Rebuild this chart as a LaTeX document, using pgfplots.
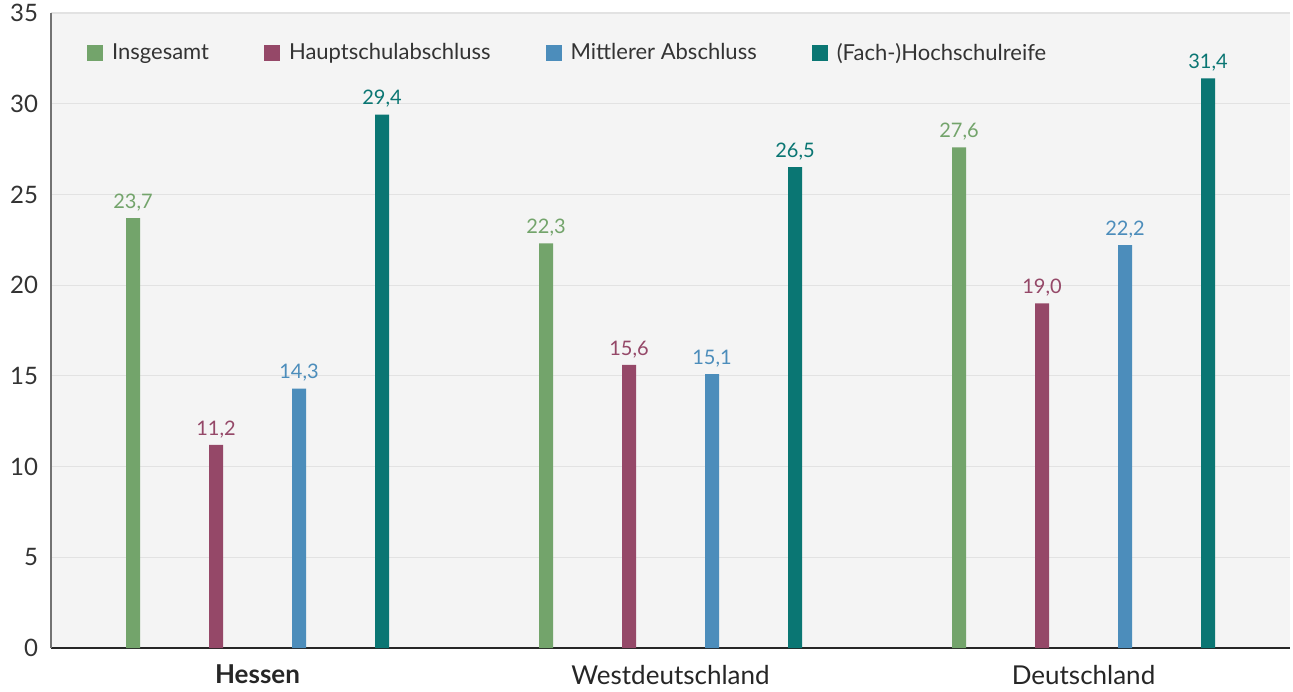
\documentclass[border=0pt]{standalone}
\usepackage{pgfplots}
\pgfplotsset{compat=1.18}
\usepackage{fontspec}
\setmainfont{Lato}
\definecolor{cG}{HTML}{73A46B}
\definecolor{cM}{HTML}{954868}
\definecolor{cB}{HTML}{4C8DBB}
\definecolor{cT}{HTML}{0A7673}
\definecolor{cBg}{HTML}{F4F4F4}
\definecolor{cGrid}{HTML}{E2E2E2}
\definecolor{cTxt}{HTML}{333333}
\begin{document}
\begin{tikzpicture}
\path[use as bounding box] (0,0) rectangle (646.5pt,345.5pt);
\begin{axis}[
  at={(25.5pt,21.5pt)}, anchor=south west,
  scale only axis, width=619.5pt, height=317.5pt,
  xmin=-0.5, xmax=2.5, ymin=0, ymax=35,
  ytick={0,5,...,35}, xtick={0,1,2},
  xticklabels={\textbf{Hessen},Westdeutschland,Deutschland},
  axis x line*=bottom, axis y line*=left,
  x axis line style={draw=black!85, line width=0.8pt},
  y axis line style={draw=black!55, line width=0.8pt},
  axis background/.style={fill=cBg},
  ymajorgrids, grid style={draw=cGrid, line width=0.6pt},
  major tick length=0pt,
  /pgf/number format/assume math mode=true,
  yticklabel style={font=\fontsize{12}{14}\selectfont, text=cTxt, xshift=-3pt},
  xticklabel style={font=\fontsize{13}{15}\selectfont, text=black!85, yshift=-5pt},
  legend style={at={(0.024,0.937)}, anchor=west, draw=none, fill=none,
    font=\fontsize{11}{13}\selectfont, text=cTxt,
    /tikz/every odd column/.append style={column sep=2.5pt},
    /tikz/every even column/.append style={column sep=25.5pt}},
  legend columns=4,
  legend image code/.code={\fill[#1] (0pt,-4pt) rectangle (8pt,4pt);},
  nodes near coords,
  every node near coord/.append style={font=\fontsize{10}{12}\selectfont,
    /pgf/number format/use comma, /pgf/number format/fixed,
    /pgf/number format/fixed zerofill, /pgf/number format/precision=1},
]
\addplot[ybar, bar width=7pt, bar shift=-62.25pt, fill=cG, draw=none,
  every node near coord/.append style={text=cG, xshift=-62.25pt}]
  coordinates {(0,23.7) (1,22.3) (2,27.6)};
\addlegendentry{Insgesamt}
\addplot[ybar, bar width=7pt, bar shift=-20.75pt, fill=cM, draw=none,
  every node near coord/.append style={text=cM, xshift=-20.75pt}]
  coordinates {(0,11.2) (1,15.6) (2,19.0)};
\addlegendentry{Hauptschulabschluss}
\addplot[ybar, bar width=7pt, bar shift=20.75pt, fill=cB, draw=none,
  every node near coord/.append style={text=cB, xshift=20.75pt}]
  coordinates {(0,14.3) (1,15.1) (2,22.2)};
\addlegendentry{Mittlerer Abschluss}
\addplot[ybar, bar width=7pt, bar shift=62.25pt, fill=cT, draw=none,
  every node near coord/.append style={text=cT, xshift=62.25pt}]
  coordinates {(0,29.4) (1,26.5) (2,31.4)};
\addlegendentry{(Fach-)Hochschulreife}
\end{axis}
\end{tikzpicture}
\end{document}
